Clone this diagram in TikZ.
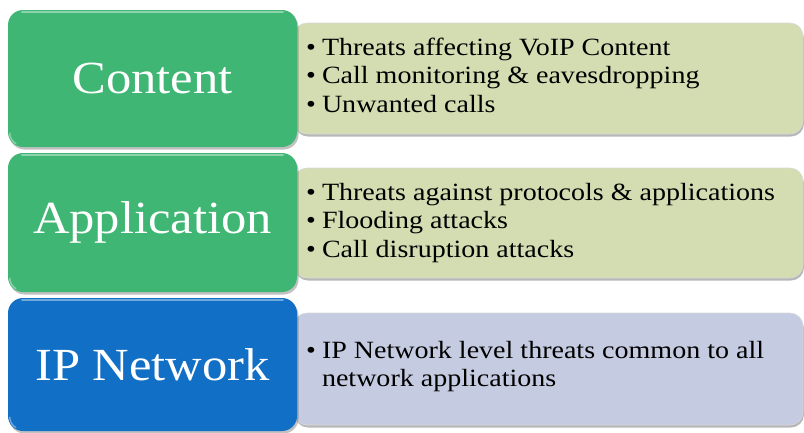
\documentclass[tikz,border=0pt]{standalone}
\usepackage{fontspec}
\setmainfont{Liberation Serif}[FakeStretch=1.1]
\newfontfamily\notefont{Liberation Serif}[FakeStretch=1.13]
\usetikzlibrary{shadows}

\definecolor{layergreen}{RGB}{64,182,116}
\definecolor{layerblue}{RGB}{17,111,197}
\definecolor{notegreen}{RGB}{212,220,178}
\definecolor{noteblue}{RGB}{197,203,224}

\tikzset{
  layerbox/.style={rectangle, rounded corners=15pt, inner sep=0pt,
    text=white, font=\fontsize{46}{50}\selectfont,
    drop shadow={shadow xshift=1.5pt, shadow yshift=-2.5pt, opacity=.35, fill=black!70}},
  notebox/.style={rectangle, rounded corners=13pt, inner sep=0pt,
    draw=white!70!gray, line width=.6pt,
    drop shadow={shadow xshift=1pt, shadow yshift=-2.5pt, opacity=.4, fill=black!70}},
  notetext/.style={anchor=west, inner sep=0pt, align=left,
    font=\notefont\fontsize{24.8}{28.5}\selectfont},
  gloss/.style={line width=1.4pt, line cap=round}
}

\newcommand{\bulletlines}[1]{%
  \begin{tabular}{@{}l@{\hspace{6pt}}l@{}}#1\end{tabular}}

\begin{document}
\begin{tikzpicture}[x=1pt,y=-1pt]
\useasboundingbox (0,0) rectangle (804,432);

% description panels, drawn first so the layer blocks overlap their left ends
\node[notebox, fill=notegreen, minimum width=509pt, minimum height=111pt] (contentnote) at (548.5,78.5) {};
\node[notebox, fill=notegreen, minimum width=509pt, minimum height=110pt] (appnote) at (548.5,223) {};
\node[notebox, fill=noteblue, minimum width=509pt, minimum height=112pt] (ipnote) at (548.5,369) {};

% layer blocks
\node[layerbox, fill=layergreen, minimum width=289pt, minimum height=137pt] (content) at (152.5,78.5) {Content};
\node[layerbox, fill=layergreen, minimum width=289pt, minimum height=139pt] (app) at (152.5,222.5) {Application};
\node[layerbox, fill=layerblue, minimum width=289pt, minimum height=133pt] (ipnet) at (152.5,364.5) {IP Network};

% glossy highlights along the top and lower-left edges
\foreach \b/\c in {content/layergreen, app/layergreen, ipnet/layerblue}{
  \draw[gloss, white!40!\c] ([xshift=14pt,yshift=-2pt]\b.north west) -- ([xshift=-14pt,yshift=-2pt]\b.north east);
  \draw[gloss, white!40!\c] ([xshift=2pt,yshift=14pt]\b.south west) arc[start angle=180, end angle=240, radius=12pt];
}

% bullet texts
\node[notetext] (contenttext) at (306,78) {\bulletlines{%
  \textbullet & Threats affecting VoIP Content\\
  \textbullet & Call monitoring \& eavesdropping\\
  \textbullet & Unwanted calls}};
\node[notetext] (apptext) at (306,223) {\bulletlines{%
  \textbullet & Threats against protocols \& applications\\
  \textbullet & Flooding attacks\\
  \textbullet & Call disruption attacks}};
\node[notetext] (iptext) at (306,367) {\bulletlines{%
  \textbullet & IP Network level threats common to all\\
   & network applications}};
\end{tikzpicture}
\end{document}
